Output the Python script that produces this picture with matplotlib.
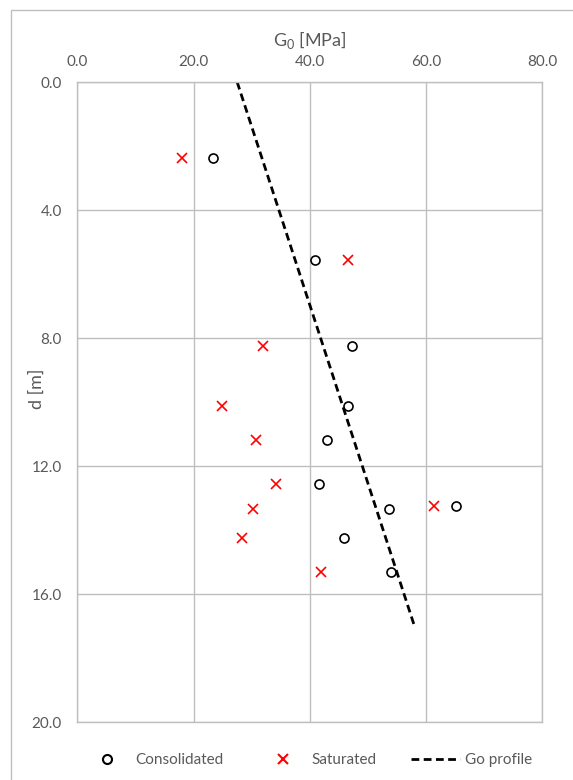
import matplotlib
matplotlib.use("Agg")
import matplotlib.pyplot as plt
from matplotlib.patches import Rectangle
from matplotlib.lines import Line2D

# Shear modulus G0 [MPa] versus depth d [m]
cons_g0 = [23.4, 40.9, 47.3, 46.6, 42.9, 41.6, 53.6, 65.1, 45.8, 53.9]
cons_d = [2.37, 5.56, 8.26, 10.12, 11.20, 12.55, 13.34, 13.25, 14.24, 15.32]

sat_g0 = [18.0, 46.5, 31.9, 24.9, 30.8, 34.2, 30.3, 61.3, 28.4, 41.9]
sat_d = [2.37, 5.56, 8.26, 10.12, 11.20, 12.56, 13.34, 13.25, 14.25, 15.32]

profile_g0 = [27.5, 58.0]
profile_d = [0.0, 17.0]

x_ticks = [0, 20, 40, 60, 80]
y_ticks = [0, 4, 8, 12, 16, 20]

plt.rcParams['font.family'] = ['Lato', 'DejaVu Sans']
plt.rcParams['mathtext.fontset'] = 'custom'
plt.rcParams['mathtext.rm'] = 'Lato'

W, H = 573, 780
fig = plt.figure(figsize=(W / 100, H / 100), dpi=100)
left, right, top, bottom = 77.3, 542.3, 82, 722
ax = fig.add_axes([left / W, 1 - bottom / H, (right - left) / W, (bottom - top) / H])

grid_c = '#BFBFBF'
text_c = '#595959'

ax.plot(cons_g0, cons_d, linestyle='none', marker='o', markersize=6.5,
        markerfacecolor='none', markeredgecolor='black', markeredgewidth=1.2,
        label='Consolidated', zorder=3)
ax.plot(sat_g0, sat_d, linestyle='none', marker='x', markersize=6.5,
        color='#FF0000', markeredgewidth=1.2, label='Saturated', zorder=3)
ax.plot(profile_g0, profile_d, color='black', linewidth=2.0,
        dashes=(2.8, 1.6), label='Go profile', zorder=2)

ax.set_xlim(0, 80)
ax.set_ylim(20, 0)
ax.set_xticks(x_ticks)
ax.set_yticks(y_ticks)
ax.set_xticklabels([f'{v:.1f}' for v in x_ticks])
ax.set_yticklabels([f'{v:.1f}' for v in y_ticks])
ax.xaxis.tick_top()
ax.xaxis.set_label_position('top')
ax.tick_params(axis='both', length=0, labelsize=11, colors=text_c)
ax.tick_params(axis='x', pad=9)
ax.tick_params(axis='y', pad=11)
ax.grid(True, color=grid_c, linewidth=1.0)
ax.set_axisbelow(True)
for s in ax.spines.values():
    s.set_color(grid_c)
    s.set_linewidth(1.0)

ax.set_xlabel(r'G$_{\mathregular{0}}$ [MPa]', fontsize=13, color=text_c, labelpad=7)
ax.set_ylabel('d [m]', fontsize=13, color=text_c)
ax.yaxis.set_label_coords((45 - left) / (right - left), 0.52)

# outer chart frame
fig.add_artist(Rectangle((11 / W, -0.1), 2, 1 - 10 / H + 0.1,
                         transform=fig.transFigure, fill=False,
                         edgecolor=grid_c, linewidth=1.0))

handles = [
    Line2D([], [], linestyle='none', marker='o', markersize=6.5,
           markerfacecolor='none', markeredgecolor='black', markeredgewidth=1.5),
    Line2D([], [], linestyle='none', marker='x', markersize=6.5,
           color='#FF0000', markeredgewidth=1.5),
    Line2D([], [], color='black', linewidth=2.0, dashes=(2.8, 1.6)),
]
fig.legend(handles, ['Consolidated', 'Saturated', 'Go profile'],
           loc='center', bbox_to_anchor=(307 / W, 1 - 760 / H), ncol=3,
           frameon=False, fontsize=11, labelcolor=text_c,
           columnspacing=2.25, handlelength=3.2, handletextpad=0.3,
           borderpad=0, borderaxespad=0)

fig.savefig('out.png', dpi=100)
